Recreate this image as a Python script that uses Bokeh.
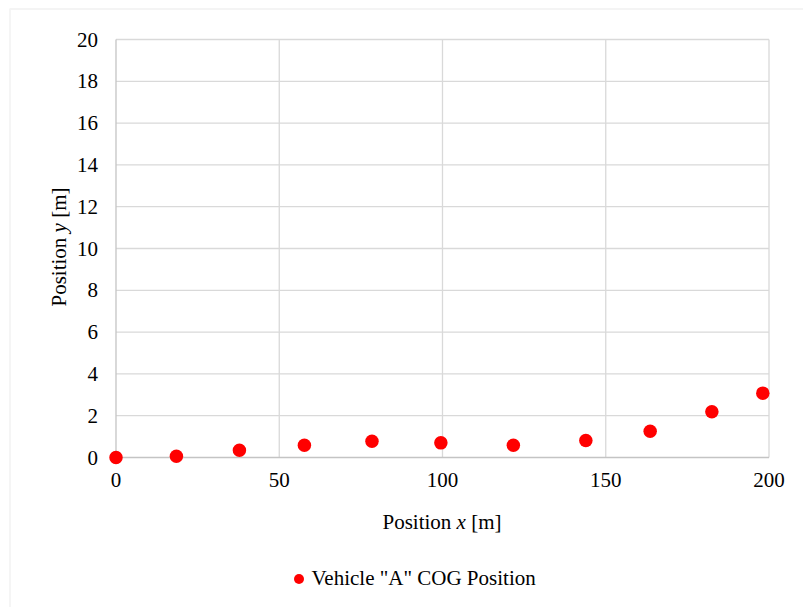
from bokeh.plotting import figure
from bokeh.models import (Range1d, FixedTicker, Legend, LegendItem, Label,
                          BoxAnnotation, ColumnDataSource)
from bokeh.embed import file_html
from bokeh.resources import INLINE

# Vehicle "A" centre-of-gravity trajectory
pos_x = [0.0, 18.5, 37.8, 57.7, 78.4, 99.5, 121.7, 143.9, 163.6, 182.5, 198.1]
pos_y = [0.0, 0.06, 0.35, 0.59, 0.78, 0.70, 0.59, 0.81, 1.26, 2.19, 3.08]
x_ticks = [0, 50, 100, 150, 200]
y_ticks = [0, 2, 4, 6, 8, 10, 12, 14, 16, 18, 20]
series_name = 'Vehicle "A" COG Position'

FONT = "Liberation Serif"
FS = "21px"
GRID = "#d9d9d9"
AXIS = "#c4c4c4"

# The plotting frame spans the whole canvas; axes sit at fixed data locations
W, H = 803, 607
KX = 653.0 / 200.0   # px per metre along x
KY = 418.0 / 20.0    # px per metre along y
x0_px, y0_px = 115.5, 457.0   # canvas position of the origin

x_start = -x0_px / KX
x_end = 200 + (W - (x0_px + 200 * KX)) / KX
y_start = -(H - y0_px) / KY
y_end = 20 + (y0_px - 20 * KY) / KY

p = figure(width=W, height=H, output_backend="svg", toolbar_location=None,
           x_range=Range1d(x_start, x_end), y_range=Range1d(y_start, y_end),
           min_border=0, min_border_left=0, min_border_right=0,
           min_border_top=0, min_border_bottom=0)
p.outline_line_color = None
p.background_fill_color = "white"
p.border_fill_color = "white"
p.xgrid.visible = False
p.ygrid.visible = False

# gridlines drawn only across the data extent
gx = [t for t in x_ticks if t != x_ticks[0]]
gy = [t for t in y_ticks if t != y_ticks[0]]
p.segment(x0=gx, x1=gx, y0=[y_ticks[0]] * len(gx), y1=[y_ticks[-1]] * len(gx),
          line_color=GRID, line_width=1.3)
p.segment(x0=[x_ticks[0]] * len(gy), x1=[x_ticks[-1]] * len(gy), y0=gy, y1=gy,
          line_color=GRID, line_width=1.3)
# axis lines
p.segment(x0=[x_ticks[0], x_ticks[0]], x1=[x_ticks[0], x_ticks[-1]],
          y0=[y_ticks[0], y_ticks[0]], y1=[y_ticks[-1], y_ticks[0]],
          line_color=AXIS, line_width=1.3)

src = ColumnDataSource(dict(x=pos_x, y=pos_y))
pts = p.scatter("x", "y", source=src, size=13.5, marker="circle",
                fill_color="#ff0000", line_color="#ff0000", line_width=0)

for ax, ticks in ((p.xaxis[0], x_ticks), (p.yaxis[0], y_ticks)):
    ax.ticker = FixedTicker(ticks=ticks)
    ax.fixed_location = 0
    ax.bounds = (ticks[0], ticks[-1])
    ax.axis_line_color = None
    ax.major_tick_line_color = None
    ax.minor_tick_line_color = None
    ax.major_tick_out = 0
    ax.major_tick_in = 0
    ax.major_label_text_font = FONT
    ax.major_label_text_font_size = FS
    ax.major_label_text_color = "black"
p.xaxis[0].major_label_standoff = 15
p.yaxis[0].major_label_standoff = 18

# axis titles with italic variable names (canvas pixels, y from the top)
def add_piece(text, cx, cy, italic=False, angle=0.0):
    p.add_layout(Label(x=cx, y=H - cy, x_units="screen", y_units="screen",
                       text=text, angle=angle, text_font=FONT, text_font_size=FS,
                       text_font_style="italic" if italic else "normal",
                       text_color="black", text_align="left",
                       text_baseline="alphabetic"))

em = 21.0
w_pos = (3279 + 250) / 1000 * em
w_var = 444 / 1000 * em
w_sp = 250 / 1000 * em

bx, by = 382, 521.5
add_piece("Position ", bx, by)
add_piece("x", bx + w_pos, by, italic=True)
add_piece("[m]", bx + w_pos + w_var + w_sp, by)

lx, ly = 58, 306
add_piece("Position ", lx, ly, angle=1.5707963)
add_piece("y", lx, ly - w_pos, italic=True, angle=1.5707963)
add_piece("[m]", lx, ly - w_pos - w_var - w_sp, angle=1.5707963)

legend = Legend(items=[LegendItem(label=series_name, renderers=[pts])],
                location=(285.5, H - 590.8), orientation="horizontal",
                padding=0, margin=0, spacing=0, label_standoff=1,
                glyph_width=25, glyph_height=25, label_height=25,
                border_line_color=None, background_fill_alpha=0,
                label_text_font=FONT, label_text_font_size=FS,
                label_text_color="black")
p.add_layout(legend, "center")

# chart-area border
p.add_layout(BoxAnnotation(left=9.5, top=8.5, right=W + 20, bottom=H + 20,
                           left_units="canvas", right_units="canvas",
                           top_units="canvas", bottom_units="canvas",
                           fill_alpha=0, line_color=GRID, line_width=1.8))

open("out.html", "w").write(file_html(p, INLINE))
